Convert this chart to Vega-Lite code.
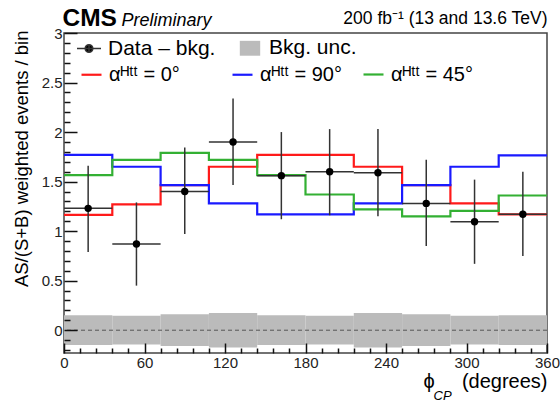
{
  "$schema": "https://vega.github.io/schema/vega-lite/v6.json",
  "width": 483,
  "height": 320,
  "autosize": {"type": "none"},
  "padding": {"left": 64, "top": 33, "right": 13, "bottom": 49},
  "background": "white",
  "config": {
    "view": {"stroke": "#444", "strokeWidth": 1.5},
    "font": "Liberation Sans",
    "axis": {"labelFont": "Liberation Sans", "titleFont": "Liberation Sans", "labelColor": "#222", "titleColor": "#000", "domain": false, "grid": false, "titleFontWeight": "normal"},
    "legend": {"labelFont": "Liberation Sans", "labelFontSize": 20, "labelColor": "#000", "orient": "none", "padding": 0, "symbolOpacity": 1}
  },
  "datasets": {
    "bins": [
      {"lo": 0, "hi": 36, "mid": 18, "val": 1.23, "elo": 0.79, "ehi": 1.66, "ulo": -0.15, "uhi": 0.15},
      {"lo": 36, "hi": 72, "mid": 54, "val": 0.87, "elo": 0.45, "ehi": 1.29, "ulo": -0.145, "uhi": 0.145},
      {"lo": 72, "hi": 108, "mid": 90, "val": 1.4, "elo": 0.97, "ehi": 1.845, "ulo": -0.16, "uhi": 0.16},
      {"lo": 108, "hi": 144, "mid": 126, "val": 1.9, "elo": 1.465, "ehi": 2.34, "ulo": -0.175, "uhi": 0.175},
      {"lo": 144, "hi": 180, "mid": 162, "val": 1.56, "elo": 1.12, "ehi": 2.0, "ulo": -0.15, "uhi": 0.15},
      {"lo": 180, "hi": 216, "mid": 198, "val": 1.6, "elo": 1.16, "ehi": 2.03, "ulo": -0.145, "uhi": 0.145},
      {"lo": 216, "hi": 252, "mid": 234, "val": 1.59, "elo": 1.15, "ehi": 2.03, "ulo": -0.175, "uhi": 0.175},
      {"lo": 252, "hi": 288, "mid": 270, "val": 1.28, "elo": 0.85, "ehi": 1.72, "ulo": -0.16, "uhi": 0.16},
      {"lo": 288, "hi": 324, "mid": 306, "val": 1.095, "elo": 0.67, "ehi": 1.52, "ulo": -0.145, "uhi": 0.145},
      {"lo": 324, "hi": 360, "mid": 342, "val": 1.17, "elo": 0.75, "ehi": 1.6, "ulo": -0.15, "uhi": 0.15}
    ],
    "models": [
      {"alpha": 0, "model": "αᴴᵗᵗ = 0°", "phi": 0, "v": 1.165},
      {"alpha": 0, "model": "αᴴᵗᵗ = 0°", "phi": 36, "v": 1.27},
      {"alpha": 0, "model": "αᴴᵗᵗ = 0°", "phi": 72, "v": 1.465},
      {"alpha": 0, "model": "αᴴᵗᵗ = 0°", "phi": 108, "v": 1.65},
      {"alpha": 0, "model": "αᴴᵗᵗ = 0°", "phi": 144, "v": 1.77},
      {"alpha": 0, "model": "αᴴᵗᵗ = 0°", "phi": 180, "v": 1.77},
      {"alpha": 0, "model": "αᴴᵗᵗ = 0°", "phi": 216, "v": 1.65},
      {"alpha": 0, "model": "αᴴᵗᵗ = 0°", "phi": 252, "v": 1.465},
      {"alpha": 0, "model": "αᴴᵗᵗ = 0°", "phi": 288, "v": 1.28},
      {"alpha": 0, "model": "αᴴᵗᵗ = 0°", "phi": 324, "v": 1.17},
      {"alpha": 0, "model": "αᴴᵗᵗ = 0°", "phi": 360, "v": 1.17},
      {"alpha": 90, "model": "αᴴᵗᵗ = 90°", "phi": 0, "v": 1.77},
      {"alpha": 90, "model": "αᴴᵗᵗ = 90°", "phi": 36, "v": 1.65},
      {"alpha": 90, "model": "αᴴᵗᵗ = 90°", "phi": 72, "v": 1.465},
      {"alpha": 90, "model": "αᴴᵗᵗ = 90°", "phi": 108, "v": 1.28},
      {"alpha": 90, "model": "αᴴᵗᵗ = 90°", "phi": 144, "v": 1.17},
      {"alpha": 90, "model": "αᴴᵗᵗ = 90°", "phi": 180, "v": 1.17},
      {"alpha": 90, "model": "αᴴᵗᵗ = 90°", "phi": 216, "v": 1.28},
      {"alpha": 90, "model": "αᴴᵗᵗ = 90°", "phi": 252, "v": 1.465},
      {"alpha": 90, "model": "αᴴᵗᵗ = 90°", "phi": 288, "v": 1.65},
      {"alpha": 90, "model": "αᴴᵗᵗ = 90°", "phi": 324, "v": 1.765},
      {"alpha": 90, "model": "αᴴᵗᵗ = 90°", "phi": 360, "v": 1.765},
      {"alpha": 45, "model": "αᴴᵗᵗ = 45°", "phi": 0, "v": 1.565},
      {"alpha": 45, "model": "αᴴᵗᵗ = 45°", "phi": 36, "v": 1.72},
      {"alpha": 45, "model": "αᴴᵗᵗ = 45°", "phi": 72, "v": 1.79},
      {"alpha": 45, "model": "αᴴᵗᵗ = 45°", "phi": 108, "v": 1.72},
      {"alpha": 45, "model": "αᴴᵗᵗ = 45°", "phi": 144, "v": 1.565},
      {"alpha": 45, "model": "αᴴᵗᵗ = 45°", "phi": 180, "v": 1.37},
      {"alpha": 45, "model": "αᴴᵗᵗ = 45°", "phi": 216, "v": 1.22},
      {"alpha": 45, "model": "αᴴᵗᵗ = 45°", "phi": 252, "v": 1.15},
      {"alpha": 45, "model": "αᴴᵗᵗ = 45°", "phi": 288, "v": 1.205},
      {"alpha": 45, "model": "αᴴᵗᵗ = 45°", "phi": 324, "v": 1.36},
      {"alpha": 45, "model": "αᴴᵗᵗ = 45°", "phi": 360, "v": 1.36}
    ]
  },
  "resolve": {"axis": {"x": "independent", "y": "independent"}},
  "layer": [
    {
      "data": {"name": "bins"},
      "mark": {"type": "rect", "stroke": null},
      "encoding": {
        "x": {"field": "lo", "type": "quantitative", "scale": {"domain": [0, 360], "nice": false, "zero": false},
          "axis": {"orient": "bottom", "values": [0, 60, 120, 180, 240, 300, 360], "offset": -10, "ticks": true, "tickColor": "#111111", "tickWidth": 1.5, "zindex": 1,
            "tickSize": 10, "labelFontSize": 15, "labelPadding": 2, "labelFlush": false, "labelOverlap": false,
            "title": "(degrees)", "titleFontSize": 20, "titleX": 483, "titleY": 44, "titleAlign": "right", "titleAnchor": null, "titleBaseline": "alphabetic"}},
        "x2": {"field": "hi"},
        "y": {"field": "ulo", "type": "quantitative", "scale": {"domain": [-0.23, 3], "nice": false, "zero": false},
          "axis": {"orient": "left", "values": [0, 0.5, 1, 1.5, 2, 2.5, 3], "offset": -13, "ticks": true, "tickColor": "#111111", "tickWidth": 1.5, "zindex": 1,
            "tickSize": 13, "labelExpr": "datum.value + ''",
            "labelFontSize": 15, "labelPadding": 2, "labelFlush": false, "labelOverlap": false,
            "title": "AS/(S+B) weighted events / bin", "titleFontSize": 18.5, "titleAngle": -90, "titleX": -50, "titleY": -3, "titleAlign": "right", "titleAnchor": null, "titleBaseline": "alphabetic"}},
        "y2": {"field": "uhi"},
        "fill": {"datum": "Bkg. unc.", "type": "nominal", "scale": {"domain": ["Data – bkg.", "Bkg. unc."], "range": ["#000000", "#bbbbbb"]},
          "legend": {"title": null, "direction": "horizontal", "legendX": 12, "legendY": 2, "symbolSize": 576, "labelOffset": 6, "columnPadding": 20, "labelFontSize": 21,
            "encoding": {"symbols": {
              "shape": {"condition": {"test": "datum.value === 'Bkg. unc.'", "value": "M-0.85,-0.62H0.85V0.62H-0.85Z"}, "value": "M-1,0H1M0,-0.3V0.3M0.32,0A0.32,0.32 0 1 1 -0.32,0A0.32,0.32 0 1 1 0.32,0Z"},
              "stroke": {"condition": {"test": "datum.value === 'Bkg. unc.'", "value": "transparent"}, "value": "#333"},
              "strokeWidth": {"value": 1.5},
              "opacity": {"value": 1}}}}}
      }
    },
    {
      "data": {"values": [{"ref": 0}]},
      "mark": {"type": "rule", "strokeDash": [4, 3], "color": "#555", "strokeWidth": 1},
      "encoding": {
        "y": {"field": "ref", "type": "quantitative", "scale": {"domain": [-0.23, 3], "nice": false, "zero": false},
          "axis": {"orient": "left", "values": [-0.2, -0.1, 0.1, 0.2, 0.3, 0.4, 0.6, 0.7, 0.8, 0.9, 1.1, 1.2, 1.3, 1.4, 1.6, 1.7, 1.8, 1.9, 2.1, 2.2, 2.3, 2.4, 2.6, 2.7, 2.8, 2.9],
            "offset": -6, "ticks": true, "tickColor": "#111111", "tickWidth": 1.5, "zindex": 1, "tickSize": 6, "labels": false, "title": null}}
      }
    },
    {
      "data": {"name": "models"},
      "transform": [{"filter": "datum.alpha !== 45"}],
      "mark": {"type": "line", "interpolate": "step-after", "strokeWidth": 2.2},
      "encoding": {
        "x": {"field": "phi", "type": "quantitative", "scale": {"domain": [0, 360], "nice": false, "zero": false},
          "axis": {"orient": "top", "ticks": false, "labels": false, "domain": false, "title": "Preliminary", "titleFontStyle": "italic", "titleFontSize": 18, "titleX": 57, "titleY": -8, "titleAlign": "left", "titleAnchor": null, "titleBaseline": "alphabetic"}},
        "y": {"field": "v", "type": "quantitative", "scale": {"domain": [-0.23, 3], "nice": false, "zero": false},
          "axis": {"orient": "right", "ticks": false, "labels": false, "domain": false, "title": "200 fb⁻¹ (13 and 13.6 TeV)", "titleAngle": 0, "titleFontSize": 17.5, "titleX": 0, "titleY": -10, "titleAlign": "right", "titleAnchor": null, "titleBaseline": "alphabetic"}},
        "stroke": {"field": "model", "type": "nominal", "scale": {"domain": ["αᴴᵗᵗ = 0°", "αᴴᵗᵗ = 90°"], "range": ["#ff1a1a", "#1a1aff"]},
          "legend": {"title": null, "direction": "horizontal", "legendX": 16, "legendY": 30, "symbolType": "stroke", "symbolSize": 400, "symbolStrokeWidth": 2.2, "labelOffset": 6, "columnPadding": 48}}
      }
    },
    {
      "data": {"name": "models"},
      "transform": [{"filter": "datum.alpha === 45"}],
      "mark": {"type": "line", "interpolate": "step-after", "strokeWidth": 2.2},
      "encoding": {
        "x": {"field": "phi", "type": "quantitative", "scale": {"domain": [0, 360], "nice": false, "zero": false},
          "axis": {"orient": "bottom", "ticks": false, "labels": false, "domain": false, "title": "ϕ", "titleFontSize": 20, "titleX": 359, "titleY": 34, "titleAlign": "left", "titleAnchor": null, "titleBaseline": "alphabetic"}},
        "y": {"field": "v", "type": "quantitative", "scale": {"domain": [-0.23, 3], "nice": false, "zero": false}, "axis": null},
        "color": {"field": "model", "type": "nominal", "scale": {"domain": ["αᴴᵗᵗ = 45°"], "range": ["#33b033"]},
          "legend": {"title": null, "direction": "horizontal", "legendX": 298, "legendY": 30, "symbolType": "stroke", "symbolSize": 400, "symbolStrokeWidth": 2.2, "labelOffset": 6}}
      }
    },
    {
      "data": {"name": "bins"},
      "mark": {"type": "rule", "color": "#333", "strokeWidth": 1.5},
      "encoding": {
        "x": {"field": "mid", "type": "quantitative", "scale": {"domain": [0, 360], "nice": false, "zero": false},
          "axis": {"orient": "bottom", "ticks": false, "labels": false, "domain": false, "title": "CP", "titleFontStyle": "italic", "titleFontSize": 13, "titleX": 369, "titleY": 46, "titleAlign": "left", "titleAnchor": null, "titleBaseline": "alphabetic"}},
        "y": {"field": "elo", "type": "quantitative", "scale": {"domain": [-0.23, 3], "nice": false, "zero": false}, "axis": null},
        "y2": {"field": "ehi"}
      }
    },
    {
      "data": {"name": "bins"},
      "mark": {"type": "rule", "color": "#333", "strokeWidth": 1.5},
      "encoding": {
        "x": {"field": "lo", "type": "quantitative", "scale": {"domain": [0, 360], "nice": false, "zero": false},
          "axis": {"orient": "top", "ticks": false, "labels": false, "domain": false, "title": "CMS", "titleFontWeight": "bold", "titleFontSize": 24.5, "titleX": -2, "titleY": -8, "titleAlign": "left", "titleAnchor": null, "titleBaseline": "alphabetic"}},
        "x2": {"field": "hi"},
        "y": {"field": "val", "type": "quantitative", "scale": {"domain": [-0.23, 3], "nice": false, "zero": false}, "axis": null}
      }
    },
    {
      "data": {"name": "bins"},
      "mark": {"type": "circle", "size": 55, "opacity": 1},
      "encoding": {
        "x": {"field": "mid", "type": "quantitative", "scale": {"domain": [0, 360], "nice": false, "zero": false},
          "axis": {"orient": "bottom", "values": [12, 24, 36, 48, 72, 84, 96, 108, 132, 144, 156, 168, 192, 204, 216, 228, 252, 264, 276, 288, 312, 324, 336, 348],
            "offset": -5, "ticks": true, "tickColor": "#111111", "tickWidth": 1.5, "zindex": 1, "tickSize": 5, "labels": false, "title": null}},
        "y": {"field": "val", "type": "quantitative", "scale": {"domain": [-0.23, 3], "nice": false, "zero": false}, "axis": null},
        "fill": {"datum": "Data – bkg.", "type": "nominal"}
      }
    }
  ]
}
